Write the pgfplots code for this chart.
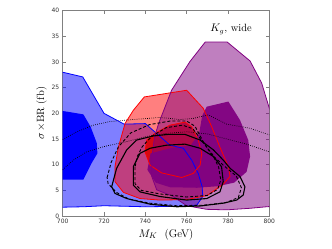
\documentclass[border=0pt]{standalone}
\usepackage{fontspec}
\usepackage{pgfplots}
\pgfplotsset{compat=1.18}
\usepackage{pgfplotstable}
\newfontfamily\tickfont{DejaVu Sans}
\definecolor{mplblue}{RGB}{0,0,255}
\definecolor{mplred}{RGB}{255,0,0}
\definecolor{mplpurple}{RGB}{128,0,128}

\pgfplotstableread{
x y
698 28.2
709.7 27.1
720 20.0
729.7 17.9
740 18.0
747.1 15.5
751.9 13.8
758.4 13.2
762.4 10.9
765.6 8.3
767.5 5.7
767.8 3.8
764.9 2.1
760 1.9
740 1.8
720 2.0
710 1.8
698 1.7
}\blueouter
\pgfplotstableread{
x y
698 20.6
710 19.8
713.5 17.4
716.5 14.2
716.8 12.2
714 10.3
710 7.1
698 7.1
}\blueinner
\pgfplotstableread{
x y
739.5 23.2
760 24.5
768 21.0
772 17.5
776 13.5
780.2 9.6
781 7.7
777.7 6.2
770 4.0
760 3.2
747.1 3.1
737.4 3.4
729.4 4.6
725.3 6.7
725.3 9.6
727 13.5
730.2 18.05
734.2 20.6
}\redouter
\pgfplotstableread{
x y
740.7 14.8
744.7 16.1
751.9 17.7
759.2 18.3
762.4 17.4
765.6 14.8
767.3 12.2
766.5 9.9
763.2 8.3
757.6 7.5
747.9 8.4
742.3 9.9
739.8 12.5
}\redinner
\pgfplotstableread{
x y
769 33.9
779.6 33.9
790.7 30.2
796.3 25.9
800 21.0
806 15
806 2.0
798.7 1.8
790.6 1.5
779.4 1.2
769.7 1.3
760 2.0
753.5 3.8
745.5 5.1
743.1 7.7
743.2 11.6
744.5 15.5
746.5 18.1
752.7 24.5
761.6 30.1
}\purpleouter
\pgfplotstableread{
x y
769.7 21.3
780.2 22.3
785.8 18.7
789.8 14.8
790.7 11.6
789 8.6
783 6.5
775 5.8
765 5.5
752 5.6
745 6.5
741 9
742.5 12.2
752 13.2
762 13.8
766 16
767.5 19.5
}\purpleinner
\pgfplotstableread{
x y
700 14.9
706.8 16.4
714.8 17.7
722.9 18.4
734.2 18.8
747.1 19.2
756.8 18.8
763 19.0
770.5 19.7
779.4 17.9
790.6 17.1
800 15.8
}\dotupper
\pgfplotstableread{
x y
700 9.0
705.2 10.9
711.6 12.5
719.7 13.5
731 14.5
740.6 15.5
750.3 16.1
760 16.4
770 16.0
779.4 15.0
789 14.0
800 12.5
}\dotlower
\pgfplotstableread{
x y
723.7 5.7
726.1 9.3
731 12.9
735.8 14.8
743.9 15.6
751 15.9
759.2 15.9
766.5 14.8
772.9 12.9
777.7 10.9
781 9.3
785.8 7.7
788.2 5.7
787.4 4.1
784.2 3.1
777.7 2.5
766.5 1.95
755.2 1.8
742.3 2.3
731 3.4
725.3 4.4
}\solidouter
\pgfplotstableread{
x y
734.2 9.6
734.2 6.0
737.4 4.7
747.1 3.8
760 3.1
769.7 3.4
776.1 4.7
777.7 6.7
776.9 9.6
772.9 11.6
766.5 13.2
759.2 14.0
750.3 13.8
742.3 13.2
737.4 12.2
}\solidinner
\pgfplotstableread{
x y
721.5 7.5
723.5 10.5
727 13.5
733 16.2
742 17.8
752 18.5
760 18.5
764 17.5
768 14.5
772 12
778 9.8
784 7.8
786.5 5.5
785 3.6
779 2.6
768 2.1
755 2.0
742 2.5
732 3.3
726 4.6
722 6.3
}\dashouter
\pgfplotstableread{
x y
735 9.5
735 6.3
738 5.0
747 4.3
760 3.7
770 4.0
775 5.2
776.5 7
775.5 9.5
772.5 12
768 14.3
763 17.0
758 17.7
750 17.2
743 15.5
738.5 13.5
736 11.5
}\dashinner

\begin{document}
\begin{tikzpicture}
\begin{axis}[
  scale only axis, width=206.6pt, height=205.3pt,
  xmin=700, xmax=800, ymin=0, ymax=40,
  xtick={700,720,...,800}, ytick={0,5,...,40},
  tick align=inside, major tick length=3.5pt,
  tick style={gray, line width=0.5pt},
  axis line style={gray, line width=0.8pt},
  ticklabel style={font=\tickfont\fontsize{6}{7}\selectfont, text=black!80},
  /pgf/number format/assume math mode=true,
  /pgf/number format/1000 sep={},
  xlabel={\fontsize{11}{13}\selectfont $M_K$~~(GeV)},
  ylabel={\fontsize{10.5}{12}\selectfont $\sigma\,\times$BR (fb)},
  xlabel style={yshift=2pt},
  ylabel style={yshift=-2pt},
  clip=true,
]
% fills
\addplot[draw=none, fill=mplblue, fill opacity=0.5] table {\blueouter} -- cycle;
\addplot[draw=none, fill=mplblue, fill opacity=1] table {\blueinner} -- cycle;
\addplot[draw=none, fill=mplred, fill opacity=0.5] table {\redouter} -- cycle;
\addplot[draw=none, fill=mplred!85!black, fill opacity=0.85] table {\redinner} -- cycle;
\addplot[draw=none, fill=mplpurple, fill opacity=0.5] table {\purpleouter} -- cycle;
\addplot[draw=none, fill=mplpurple, fill opacity=0.95] table {\purpleinner} -- cycle;
% edges
\addplot[mplblue, line width=0.8pt, sharp plot] table {\blueouter} -- cycle;
\addplot[mplred, line width=0.8pt, sharp plot] table {\redouter} -- cycle;
\addplot[mplred, line width=0.8pt, sharp plot] table {\redinner} -- cycle;
\addplot[mplpurple, line width=0.8pt, sharp plot] table {\purpleouter} -- cycle;
% dotted
\addplot[black, line width=0.7pt, dash pattern=on 0.7pt off 1.4pt] table {\dotupper};
\addplot[black, line width=0.7pt, dash pattern=on 0.7pt off 1.4pt] table {\dotlower};
% dashed
\addplot[black, line width=0.9pt, dash pattern=on 3pt off 2pt] table {\dashouter} -- cycle;
\addplot[black, line width=0.9pt, dash pattern=on 3pt off 2pt] table {\dashinner} -- cycle;
% solid
\addplot[black, line width=1.1pt] table {\solidouter} -- cycle;
\addplot[black, line width=1.1pt] table {\solidinner} -- cycle;
\node[anchor=center, font=\fontsize{10.5}{12}\selectfont] at (axis cs:781.5,36.3) {$K_g$, wide};
\end{axis}
\path (-62.7pt,-33pt) rectangle (269.3pt,216pt);
\end{tikzpicture}
\end{document}
